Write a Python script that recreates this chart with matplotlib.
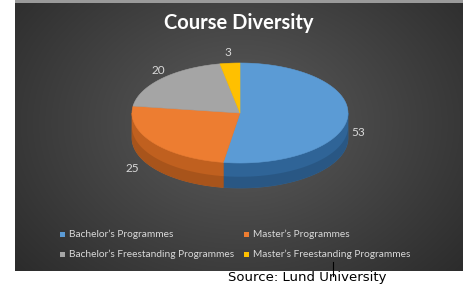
import numpy as np
import matplotlib
matplotlib.use("Agg")
import matplotlib.pyplot as plt
from matplotlib.patches import Polygon, Rectangle

categories = ["Bachelor’s Programmes", "Master’s Programmes",
              "Bachelor’s Freestanding Programmes", "Master’s Freestanding Programmes"]
values = [53, 25, 20, 3]
top_colors = ["#5b9bd5", "#ed7d31", "#a5a5a5", "#ffc000"]
side_colors = ["#2f6497", "#c0601f", "#7a7a7a", "#bf9000"]
title = "Course Diversity"
source = "Source: Lund University"

W, H = 474, 284
fig = plt.figure(figsize=(W / 100, H / 100), dpi=100)
ax = fig.add_axes([0, 0, 1, 1])
ax.set_xlim(0, W)
ax.set_ylim(H, 0)
ax.axis("off")
fig.patch.set_facecolor("white")

# panel with radial gradient
px0, px1, py0, py1 = 15, 463, 0, 271
yy, xx = np.mgrid[0:100, 0:160]
cxg, cyg = 80, 45
d = np.sqrt(((xx - cxg) / 95.0) ** 2 + ((yy - cyg) / 75.0) ** 2)
lum = 0.36 - 0.17 * np.clip(d, 0, 1.3)
img = np.dstack([lum, lum, lum])
ax.imshow(img, extent=(px0, px1, py1, py0), aspect="auto", zorder=0, interpolation="bilinear")
ax.add_patch(Rectangle((px0, 0), px1 - px0, 2.5, color="#9a9a9a", zorder=1, lw=0))

# 3D pie
cx, cy, rx, ry, depth = 240, 113, 108, 50, 25
total = float(sum(values))
fracs = np.array(values) / total
starts = 90 - 360 * np.concatenate([[0], np.cumsum(fracs)[:-1]])
ends = starts - 360 * fracs

def pt(t_deg, dy=0.0):
    t = np.radians(t_deg)
    return cx + rx * np.cos(t), cy - ry * np.sin(t) + dy

# side walls (front half)
for s, e, c in zip(starts, ends, side_colors):
    for off in (0, -360, 360):
        lo, hi = max(e + off, -180), min(s + off, 0)
        if hi > lo:
            ts = np.linspace(lo, hi, 80)
            top = [pt(t) for t in ts]
            bot = [pt(t, depth) for t in ts[::-1]]
            ax.add_patch(Polygon(top + bot, closed=True, facecolor=c, edgecolor=c, lw=0.5, zorder=2))
            mid = [pt(t, depth * 0.55) for t in ts]
            bot2 = [pt(t, depth) for t in ts[::-1]]
            ax.add_patch(Polygon(mid + bot2, closed=True, facecolor="black", alpha=0.12, lw=0, zorder=2.1))

# top faces
for s, e, c in zip(starts, ends, top_colors):
    ts = np.linspace(s, e, 200)
    verts = [(cx, cy)] + [pt(t) for t in ts]
    ax.add_patch(Polygon(verts, closed=True, facecolor=c, edgecolor=c, lw=0.4, zorder=3))

# data labels
label_pos = [(358, 132), (132, 168), (158, 71), (228, 53)]
for v, (lx, ly) in zip(values, label_pos):
    ax.text(lx, ly, str(v), color="#d9d9d9", fontsize=8.5, family="Lato",
            ha="center", va="center", zorder=5)

ax.text(239, 23, title, color="white", fontsize=14.5, family="Lato", weight="bold",
        ha="center", va="center", zorder=5)

# legend
leg_pos = [(63, 234), (247, 234), (63, 254), (247, 254)]
for (lx, ly), lab, c in zip(leg_pos, categories, top_colors):
    ax.add_patch(Rectangle((lx - 2.5, ly - 2.5), 5, 5, color=c, zorder=5, lw=0))
    ax.text(lx + 6, ly, lab, color="#d9d9d9", fontsize=7.3, family="Lato",
            ha="left", va="center", zorder=5)

ax.text(228, 278, source, color="black", fontsize=9.5, family="DejaVu Sans",
        ha="left", va="center", zorder=5)
ax.plot([333, 333], [262, 276], color="black", lw=0.8, zorder=6)

fig.savefig("out.png", dpi=100, facecolor="white")
